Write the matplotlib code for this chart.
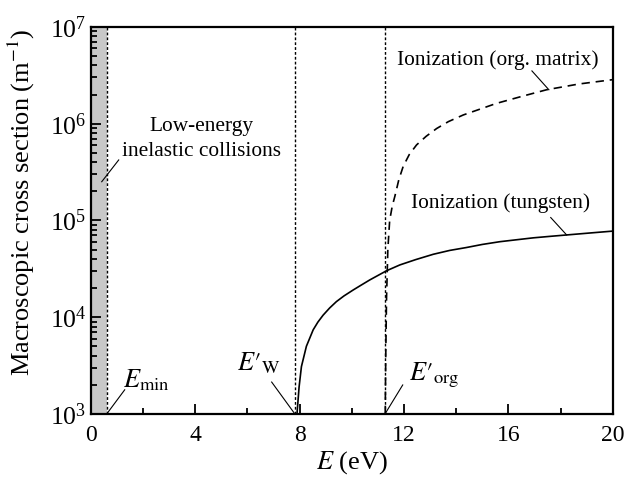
import matplotlib
matplotlib.use('Agg')
import matplotlib.pyplot as plt
import numpy as np

plt.rcParams['font.family'] = ['Liberation Serif', 'DejaVu Serif']
plt.rcParams['mathtext.fontset'] = 'stix'

# Threshold energies (eV)
e_min = 0.61
e_w = 7.82
e_org = 11.27

# Ionization (tungsten)
energy_w = [7.90, 7.98, 8.07, 8.26, 8.52, 8.70, 8.90, 9.15, 9.41, 9.70, 10.05, 10.35, 10.69,
            11.33, 11.84, 12.45, 13.12, 13.75, 14.39, 15.00, 15.67, 16.30, 16.95, 17.60,
            18.23, 19.10, 20.0]
sigma_w = [1.0e3, 1.9e3, 3.09e3, 5.01e3, 7.41e3, 8.9e3, 1.05e4, 1.245e4, 1.45e4, 1.66e4,
           1.91e4, 2.14e4, 2.43e4, 3.02e4, 3.47e4, 3.94e4, 4.47e4, 4.90e4, 5.25e4, 5.65e4,
           6.03e4, 6.31e4, 6.61e4, 6.85e4, 7.08e4, 7.41e4, 7.76e4]

# Ionization (org. matrix)
energy_org = [11.28, 11.30, 11.33, 11.38, 11.45, 11.55, 11.65, 11.80, 11.97, 12.20, 12.48,
              12.85, 13.25, 13.70, 14.27, 14.90, 15.54, 16.50, 17.46, 18.70, 20.0]
sigma_org = [1.0e3, 4.0e3, 1.58e4, 5.0e4, 1.0e5, 1.41e5, 1.78e5, 2.63e5, 3.63e5, 4.79e5,
             6.03e5, 7.41e5, 8.91e5, 1.05e6, 1.23e6, 1.41e6, 1.62e6, 1.91e6, 2.24e6, 2.57e6,
             2.85e6]

fig = plt.figure(figsize=(6.26, 4.8), dpi=100)
ax = fig.add_axes([0.145, 0.1375, 0.834, 0.8065])

ax.axvspan(0, e_min, color='#c8c8c8', lw=0)
for x in [e_min, e_w, e_org]:
    ax.axvline(x, color='black', lw=1.0, linestyle=(0, (2, 1.5)))

ax.plot(energy_w, sigma_w, color='black', lw=1.2)
ax.plot(energy_org, sigma_org, color='black', lw=1.2, linestyle=(0, (5, 3.5)))

ax.set_yscale('log')
ax.set_xlim(0, 20)
ax.set_ylim(1e3, 1e7)
ax.set_xticks([0, 4, 8, 12, 16, 20])
ax.set_xticks([2, 6, 10, 14, 18], minor=True)
ax.set_yticks([1e3, 1e4, 1e5, 1e6, 1e7])
ax.tick_params(which='both', direction='in', top=False, right=False, width=1.3)
ax.tick_params(axis='x', labelsize=17, pad=8)
ax.tick_params(axis='y', labelsize=18.5, pad=3)
ax.tick_params(which='major', length=7)
ax.tick_params(which='minor', length=4)
for s in ax.spines.values():
    s.set_linewidth(1.6)

ax.set_xlabel('$E$ (eV)', fontsize=19, labelpad=2)
ax.set_ylabel('Macroscopic cross section (m$^{-1}$)', fontsize=19)
ax.yaxis.set_label_coords(-0.103, 0.548)

# Annotations
ax.text(4.23, 10**5.84, 'Low-energy\ninelastic collisions', fontsize=15.4, ha='center',
        va='center', linespacing=1.45)
ax.plot([0.42, 1.07], [10**5.40, 10**5.625], color='black', lw=0.8)

ax.text(15.6, 10**6.66, 'Ionization (org. matrix)', fontsize=15.4, ha='center', va='center')
ax.plot([16.9, 17.55], [10**6.545, 10**6.35], color='black', lw=0.8)

ax.text(15.7, 10**5.18, 'Ionization (tungsten)', fontsize=15.4, ha='center', va='center')
ax.plot([17.62, 18.23], [10**5.03, 10**4.85], color='black', lw=0.8)

ax.text(1.25, 10**3.35, '$E_{\\mathrm{min}}$', fontsize=19, ha='left', va='center')
ax.plot([e_min, 1.3], [1e3, 10**3.25], color='black', lw=0.8)

ax.text(5.6, 10**3.53, "$E{\\prime}_{\\mathrm{W}}$", fontsize=19, ha='left', va='center')
ax.plot([e_w, 6.93], [1e3, 10**3.33], color='black', lw=0.8)

ax.text(12.2, 10**3.40, "$E{\\prime}_{\\mathrm{org}}$", fontsize=19, ha='left', va='center')
ax.plot([e_org, 11.95], [1e3, 10**3.30], color='black', lw=0.8)

plt.savefig('out.png', dpi=100)
